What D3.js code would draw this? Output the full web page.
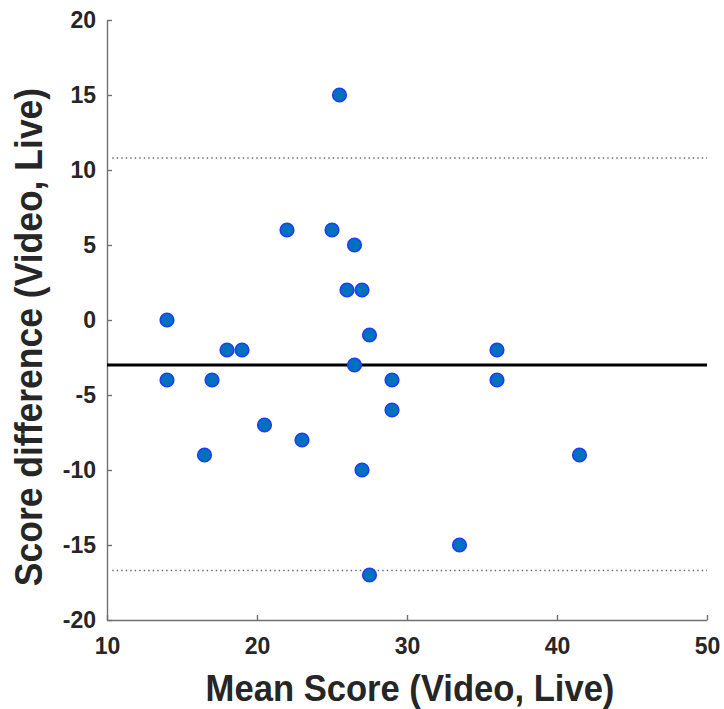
<!DOCTYPE html>
<meta charset="utf-8">
<style>
  body { margin: 0; background: #fff; }
  text { font-family: "Liberation Sans", Arial, sans-serif; font-weight: bold; fill: #262626; }
</style>
<script src="https://d3js.org/d3.v7.min.js"></script>
<div id="chart"></div>
<script>
  // mean score (x) and score difference (y) for each subject
  var meanScore = [14, 14, 16.5, 17, 18, 19, 20.5, 22, 23, 25, 25.5, 26, 26.5, 26.5, 27, 27, 27.5, 27.5, 29, 29, 33.5, 36, 36, 41.5];
  var scoreDiff = [0, -4, -9, -4, -2, -2, -7, 6, -8, 6, 15, 2, 5, -3, 2, -10, -1, -17, -4, -6, -15, -2, -4, -9];

  // bias and limits of agreement
  var meanDiff = -3;
  var limits = [10.8, -16.7];

  var xTicks = [10, 20, 30, 40, 50];
  var yTicks = [-20, -15, -10, -5, 0, 5, 10, 15, 20];

  var margin = {top: 20, left: 107},
      width = 600,
      height = 600;

  var svg = d3.select("#chart")
    .append("svg")
      .attr("width", 724)
      .attr("height", 709)
    .append("g")
      .attr("transform", "translate(" + margin.left + "," + margin.top + ")");

  var x = d3.scaleLinear().domain([10, 50]).range([0, width]);
  var y = d3.scaleLinear().domain([-20, 20]).range([height, 0]);

  // axes, ticks pointing inward, plain hyphen minus
  var fmt = function(d) { return String(d); };
  var xAxis = svg.append("g")
    .attr("transform", "translate(0," + height + ")")
    .call(d3.axisBottom(x).tickValues(xTicks).tickFormat(fmt).tickSizeInner(-5).tickSizeOuter(0).tickPadding(18));
  var yAxis = svg.append("g")
    .call(d3.axisLeft(y).tickValues(yTicks).tickFormat(fmt).tickSizeInner(-5).tickSizeOuter(0).tickPadding(11));

  [xAxis, yAxis].forEach(function(a) {
    a.select(".domain").attr("stroke", "#707070").attr("stroke-width", 1.4);
    a.selectAll(".tick line").attr("stroke", "#707070").attr("stroke-width", 1.4);
    a.selectAll(".tick text")
      .attr("font-size", 23)
      .attr("font-family", "Liberation Sans, Arial, sans-serif")
      .attr("font-weight", "bold")
      .attr("fill", "#262626");
  });

  // limits of agreement (dotted)
  svg.selectAll(".loa")
    .data(limits)
    .enter()
    .append("line")
      .attr("class", "loa")
      .attr("x1", x(10.35))
      .attr("x2", x(50))
      .attr("y1", function(d) { return y(d); })
      .attr("y2", function(d) { return y(d); })
      .attr("stroke", "#666")
      .attr("stroke-width", 1.3)
      .attr("stroke-dasharray", "1.4,3.1");

  // mean difference
  svg.append("line")
    .attr("x1", 0)
    .attr("x2", width)
    .attr("y1", y(meanDiff))
    .attr("y2", y(meanDiff))
    .attr("stroke", "#000")
    .attr("stroke-width", 3);

  // points
  svg.selectAll("circle")
    .data(meanScore)
    .enter()
    .append("circle")
      .attr("cx", function(d) { return x(d); })
      .attr("cy", function(d, i) { return y(scoreDiff[i]); })
      .attr("r", 6.8)
      .attr("fill", "#0072BD")
      .attr("stroke", "#1f3cff")
      .attr("stroke-width", 1.6);

  // axis labels (glyphs in the original are a bit taller than wide)
  svg.append("text")
    .attr("transform", "translate(" + (width / 2 + 3) + "," + (701 - margin.top) + ") scale(1,1.08)")
    .attr("text-anchor", "middle")
    .attr("font-size", 34.6)
    .text("Mean Score (Video, Live)");

  svg.append("text")
    .attr("transform", "translate(" + (42 - margin.left) + "," + (337 - margin.top) + ") rotate(-90) scale(1,1.08)")
    .attr("text-anchor", "middle")
    .attr("font-size", 35.5)
    .text("Score difference (Video, Live)");
</script>
